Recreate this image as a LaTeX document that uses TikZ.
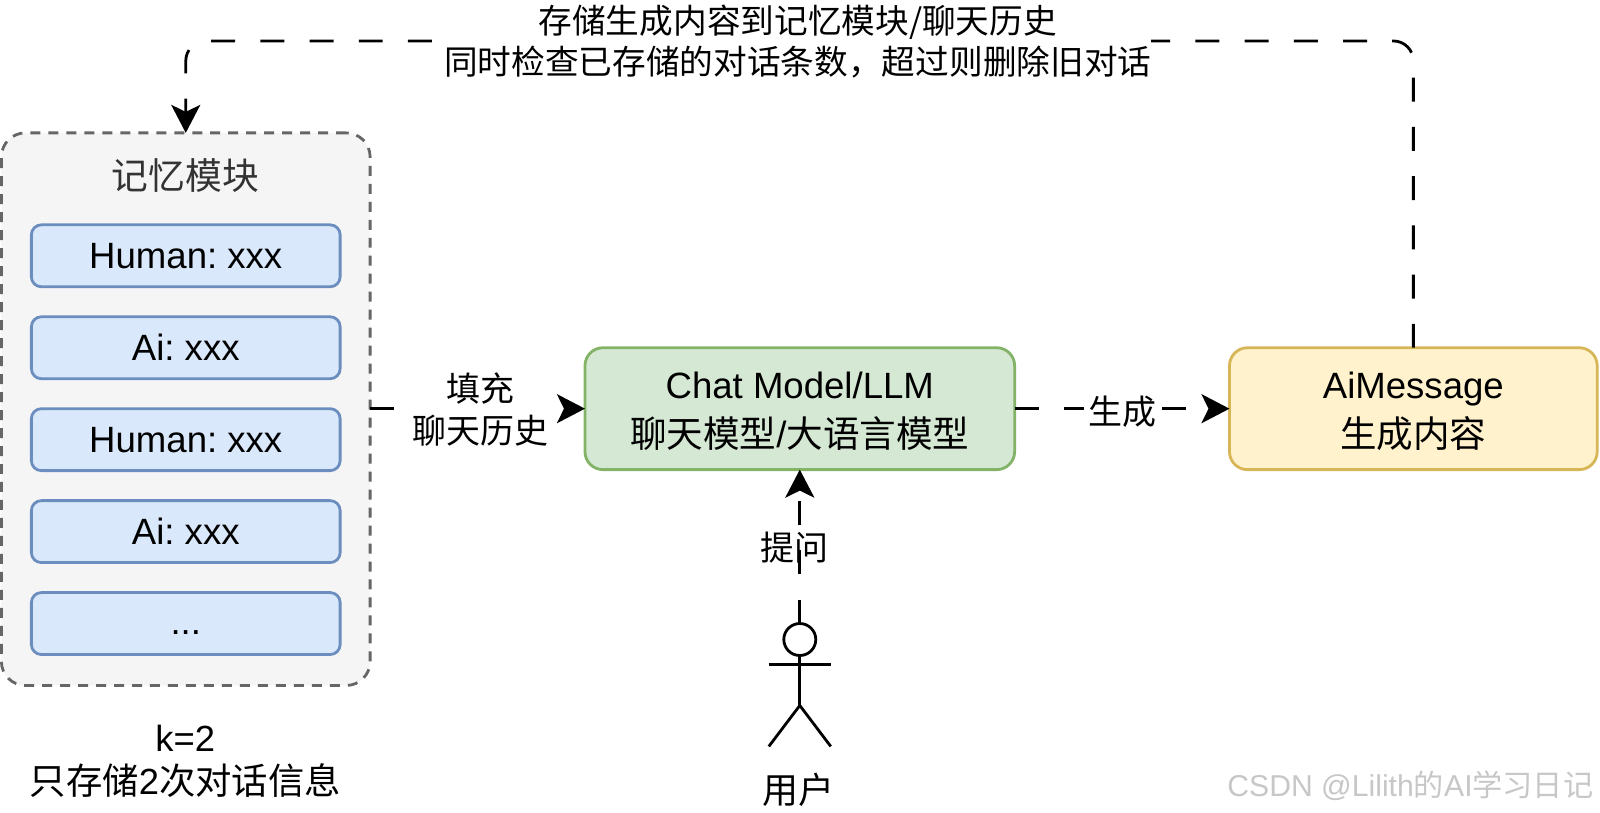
\documentclass[tikz,border=0pt]{standalone}
\usepackage{fontspec}
\setmainfont{Liberation Sans}
\newfontfamily\cjk{Noto Sans CJK SC}
\frenchspacing
\usetikzlibrary{arrows.meta, positioning}
\definecolor{bluefill}{HTML}{DAE8FC}
\definecolor{blueline}{HTML}{6C8EBF}
\definecolor{greenfill}{HTML}{D5E8D4}
\definecolor{greenline}{HTML}{82B366}
\definecolor{yellowfill}{HTML}{FFF2CC}
\definecolor{yellowline}{HTML}{D6B656}
\definecolor{grayfill}{HTML}{F5F5F5}
\definecolor{grayline}{HTML}{666666}
\begin{document}
\begin{tikzpicture}[
    x=0.5pt, y=-0.5pt,
    node distance=15pt,
    block/.style={
        rectangle, draw, rounded corners=9pt, line width=1.4pt, outer sep=0pt,
        minimum width=215pt, minimum height=61pt,
        align=center, font=\fontsize{18.3}{24.5}\selectfont
    },
    item/.style={
        block, rounded corners=5pt, fill=bluefill, draw=blueline,
        minimum width=154.5pt, minimum height=31pt
    },
    tag/.style={align=center, inner sep=2pt, font=\fontsize{17}{21}\selectfont},
    flow/.style={
        line width=1.4pt, dash pattern=on 12pt off 12.625pt,
        -{Stealth[length=14pt, width=14.5pt, inset=3.5pt]}
    },
    limb/.style={line width=1.4pt},
]

% Memory panel
\node[block, fill=grayfill, draw=grayline, dash pattern=on 5pt off 4pt, rounded corners=12pt,
    minimum width=184.5pt, minimum height=276.5pt] (memory) at (185.5,409.5) {};
\node[font=\fontsize{18.4}{22}\selectfont, text=black!80] (memtitle) at (185,176) {\cjk 记忆模块};
\node[item] (human1) at (185.5,256) {Human: xxx};
\node[item, below=of human1] (ai1) {Ai: xxx};
\node[item, below=of ai1] (human2) {Human: xxx};
\node[item, below=of human2] (ai2) {Ai: xxx};
\node[item, below=of ai2] (more) {\rule{0pt}{11pt}...};
\node[align=center, font=\fontsize{18.2}{21.5}\selectfont] (knote) at (185,762) {k=2\\{\cjk 只存储}2{\cjk 次对话信息}};

% Model and output
\node[block, fill=greenfill, draw=greenline] (chat) at (800,409) {\rule{0pt}{16pt}Chat Model/LLM\\{\cjk 聊天模型}/{\cjk 大语言模型}};
\node[block, fill=yellowfill, draw=yellowline, minimum width=184pt] (output) at (1414,409) {\rule{0pt}{16pt}AiMessage\\{\cjk 生成内容}};

% User figure
\node[circle, draw, line width=1.4pt, minimum size=16pt, inner sep=0pt, outer sep=0pt] (head) at (800,640) {};
\coordinate (hip) at (800,706);
\draw[limb] (head.south) -- (hip);
\draw[limb] (769,665) -- (831,665);
\draw[limb] (769,747) -- (hip) -- (831,747);
\node[font=\fontsize{18}{22}\selectfont] (user) at (799,790) {\cjk 用户};

% Horizontal flow
\draw[flow] (memory.east |- chat.west) -- (chat.west)
    node[midway, tag, fill=white, xshift=1.25pt, yshift=-0.5pt] (fill) {\cjk 填充\\\cjk 聊天历史};
\draw[flow] (chat.east) -- (output.west)
    node[midway, tag, fill=white, yshift=-1.5pt] (gen) {\cjk 生成};

% Question from user
\draw[flow] (head.north) -- (chat.south);
\node[tag] (ask) at (795,548) {\cjk 提问};

% Loopback to memory
\coordinate (topline) at (798,41);
\draw[flow, rounded corners=10pt] (output.north) |- (topline) -| (memory.north);
\node[tag, fill=white, inner sep=0pt, yshift=-0.25pt, font=\fontsize{16.85}{20.6}\selectfont] (store) at (topline) {\cjk 存储生成内容到记忆模块/聊天历史\\\cjk 同时检查已存储的对话条数，超过则删除旧对话};

% Watermark
\node[text=black!22, font=\fontsize{15.1}{18}\selectfont] (mark) at (1411,786) {CSDN @Lilith{\cjk 的}AI{\cjk 学习日记}};

\useasboundingbox (0,0) rectangle (1600,813);
\end{tikzpicture}
\end{document}
